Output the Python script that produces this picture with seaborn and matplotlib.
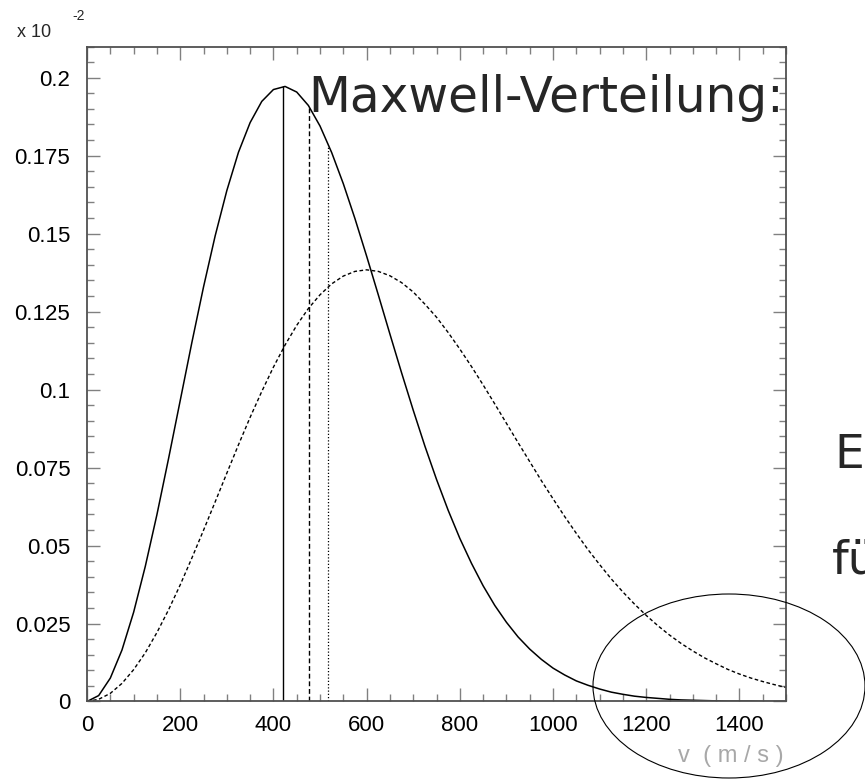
import numpy as np
import pandas as pd
import matplotlib
matplotlib.use("Agg")
import matplotlib.pyplot as plt
from matplotlib.patches import Ellipse
import seaborn as sns

# Maxwell-Verteilung, Werte in Einheiten von 10^-2
v_solid = [0, 25, 50, 75, 100, 125, 150, 175, 200, 225, 250, 275, 300, 325, 350,
           375, 400, 425, 450, 475, 500, 525, 550, 575, 600, 625, 650, 675,
           700, 725, 750, 775, 800, 825, 850, 875, 900, 925, 950, 975, 1000,
           1025, 1050, 1075, 1100, 1125, 1150, 1175, 1200, 1225, 1250, 1275,
           1300, 1325, 1350, 1375, 1400, 1425, 1450, 1475, 1500]
f_solid = [0.0, 0.0019, 0.0075, 0.0165, 0.0286, 0.0433, 0.0599, 0.0779, 0.0965,
           0.1151, 0.1329, 0.1493, 0.1638, 0.1761, 0.1856, 0.1924, 0.1962, 0.1972,
           0.1954, 0.1911, 0.1845, 0.1760, 0.1660, 0.1548, 0.1428, 0.1304, 0.1178,
           0.1054, 0.0934, 0.0819, 0.0712, 0.0613, 0.0523, 0.0443, 0.0371, 0.0308,
           0.0254, 0.0207, 0.0168, 0.0135, 0.0107, 0.0085, 0.0066, 0.0052, 0.0040,
           0.0030, 0.0023, 0.0017, 0.0013, 0.0010, 0.0007, 0.0005, 0.0004, 0.0003,
           0.0002, 0.0001, 0.0001, 0.0001, 0.0, 0.0, 0.0]

v_dashed = [0, 25, 50, 75, 100, 125, 150, 175, 200, 225, 250, 275, 300, 325, 350,
            375, 400, 425, 450, 475, 500, 525, 550, 575, 600, 625, 650, 675,
            700, 725, 750, 775, 800, 825, 850, 875, 900, 925, 950, 975, 1000,
            1025, 1050, 1075, 1100, 1125, 1150, 1175, 1200, 1225, 1250, 1275,
            1300, 1325, 1350, 1375, 1400, 1425, 1450, 1475, 1500]
f_dashed = [0.0, 0.0007, 0.0026, 0.0058, 0.0102, 0.0156, 0.0221, 0.0294, 0.0374,
            0.0460, 0.0549, 0.0640, 0.0732, 0.0823, 0.0911, 0.0994, 0.1072, 0.1143,
            0.1206, 0.1260, 0.1304, 0.1339, 0.1364, 0.1379, 0.1384, 0.1379, 0.1365,
            0.1343, 0.1313, 0.1274, 0.1232, 0.1183, 0.1130, 0.1074, 0.1015, 0.0954,
            0.0892, 0.0830, 0.0769, 0.0708, 0.0650, 0.0593, 0.0539, 0.0487, 0.0439,
            0.0393, 0.0351, 0.0312, 0.0276, 0.0243, 0.0213, 0.0186, 0.0162, 0.0140,
            0.0121, 0.0103, 0.0088, 0.0075, 0.0064, 0.0054, 0.0045]

# senkrechte Linien: wahrscheinlichste, mittlere, rms Geschwindigkeit
v_lines = [421, 476, 518]
v_tops = [0.1972, 0.1908, 0.1785]

xticks = [0, 200, 400, 600, 800, 1000, 1200, 1400]
yticks = [0, 0.025, 0.05, 0.075, 0.1, 0.125, 0.15, 0.175, 0.2]
ylabels = ["0", "0.025", "0.05", "0.075", "0.1", "0.125", "0.15", "0.175", "0.2"]

sns.set_style("ticks")
plt.rcParams['font.family'] = ['Liberation Sans', 'DejaVu Sans']

df_s = pd.DataFrame({"v": v_solid, "f": f_solid})
df_d = pd.DataFrame({"v": v_dashed, "f": f_dashed})

fig = plt.figure(figsize=(8.65, 7.79), dpi=100)
ax = fig.add_axes([0.1006, 0.0995, 0.8081, 0.8408])

sns.lineplot(data=df_s, x="v", y="f", ax=ax, color="black", lw=1.1, estimator=None)
sns.lineplot(data=df_d, x="v", y="f", ax=ax, color="black", lw=1.0,
             linestyle=(0, (2.6, 1.8)), estimator=None)

ax.vlines(v_lines[0], 0, v_tops[0], color="black", lw=1.0)
ax.vlines(v_lines[1], 0, v_tops[1], color="black", lw=1.0, linestyles=[(0, (3.5, 2))])
ax.vlines(v_lines[2], 0, v_tops[2], color="black", lw=0.9, linestyles=[(0, (1, 1.6))])

ax.set_xlim(0, 1500)
ax.set_ylim(0, 0.21)
ax.set_xticks(xticks)
ax.set_xticks(np.arange(0, 1501, 50), minor=True)
ax.set_yticks(yticks, ylabels)
ax.set_yticks(np.arange(0, 0.2101, 0.005), minor=True)
ax.set_xlabel("")
ax.set_ylabel("")

ax.tick_params(which="both", direction="in", top=True, right=True,
               color="#808080", width=1.0, labelsize=16, labelcolor="black")
ax.tick_params(which="major", length=9.5)
ax.tick_params(which="minor", length=5)
ax.tick_params(axis="y", pad=12)
ax.tick_params(axis="x", pad=10)
for s in ax.spines.values():
    s.set_color("#505050")
    s.set_linewidth(1.3)

# Beschriftungen
fig.text(17 / 865, 1 - 37 / 779, "x 10", fontsize=13, ha="left", va="baseline")
fig.text(72 / 865, 1 - 20 / 779, "-2", fontsize=10, ha="left", va="baseline")
fig.text(784 / 865, 1 - 762 / 779, "v  ( m / s )", fontsize=17, color="#a8a8a8",
         ha="right", va="baseline")

fig.text(784 / 865, 1 - 112 / 779, "Maxwell-Verteilung:", fontsize=35,
         family="DejaVu Sans", ha="right", va="baseline")
fig.text(834 / 865, 1 - 467 / 779, "Es", fontsize=34, family="DejaVu Sans",
         ha="left", va="baseline")
fig.text(832 / 865, 1 - 573 / 779, "fü", fontsize=34, family="DejaVu Sans",
         ha="left", va="baseline")

fig.patches.append(Ellipse((729 / 865, 1 - 686 / 779), 272 / 865, 184 / 779,
                           transform=fig.transFigure, fill=False,
                           edgecolor="black", lw=0.8))

fig.savefig("out.png", dpi=100)
plt.close()
